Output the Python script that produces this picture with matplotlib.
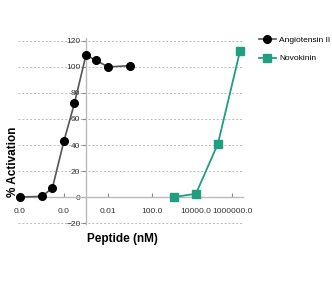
import matplotlib.pyplot as plt

plt.rcParams['font.family'] = ['Liberation Sans', 'DejaVu Sans']

# data (peptide in nM, log axis)
ang_x = [1e-4, 1e-3, 3e-3, 1e-2, 3e-2, 0.1, 0.3, 1, 10]
ang_y = [0, 0.5, 7, 43, 72, 109, 105, 100, 101]
novo_x = [1e3, 1e4, 1e5, 1e6]
novo_y = [0, 2.5, 41, 112]

xtick_pos = [1e-4, 1e-2, 1, 100, 1e4, 4.4e5]
xtick_lab = ['0.0', '0.0', '0.01', '100.0', '10000.0', '1000000.0']
yticks = [-20, 0, 20, 40, 60, 80, 100, 120]

fig = plt.figure(figsize=(3.32, 2.84), dpi=100)
ax = fig.add_axes([0.054, 0.21, 0.678, 0.655])

ax.plot(ang_x, ang_y, color='#555555', lw=1.2, marker='o', ms=5.5,
        mfc='black', mec='black', label='Angiotensin II', clip_on=False, zorder=3)
ax.plot(novo_x, novo_y, color='#1f9e80', lw=1.3, marker='s', ms=5.5,
        mfc='#1f9e80', mec='#1f9e80', label='Novokinin', clip_on=False, zorder=3)

ax.set_xscale('log')
ax.set_xlim(10**-4.09, 10**6.14)
ax.set_ylim(-21, 122)

ax.set_xticks(xtick_pos)
ax.set_xticklabels(xtick_lab)
ax.minorticks_off()
ax.set_yticks(yticks)

ax.spines['left'].set_position(('data', 0.1))
ax.spines['bottom'].set_position(('data', 0))
for s in ['top', 'right']:
    ax.spines[s].set_visible(False)
for s in ['left', 'bottom']:
    ax.spines[s].set_color('#bbbbbb')
    ax.spines[s].set_linewidth(1.0)

ax.tick_params(axis='x', direction='in', length=3, color='#888888',
               labelsize=6, pad=8, labelcolor='#333333')
ax.tick_params(axis='y', direction='out', length=3, color='#888888',
               labelsize=6, pad=1, labelcolor='#333333')

ax.yaxis.grid(True, linestyle=(0, (2, 2)), color='#bbbbbb', lw=0.7)
ax.set_axisbelow(True)

fig.text(0.04, 0.43, '% Activation', rotation=90, ha='center', va='center',
         fontsize=8.5, fontweight='bold')
fig.text(0.368, 0.158, 'Peptide (nM)', ha='center', va='center',
         fontsize=8.5, fontweight='bold')

ax.legend(loc='upper left', bbox_to_anchor=(0.77, 0.885), bbox_transform=fig.transFigure,
          frameon=False, fontsize=6, handlelength=2.0, handletextpad=0.4,
          labelspacing=1.3, borderaxespad=0)

fig.savefig('out.png', dpi=100)
